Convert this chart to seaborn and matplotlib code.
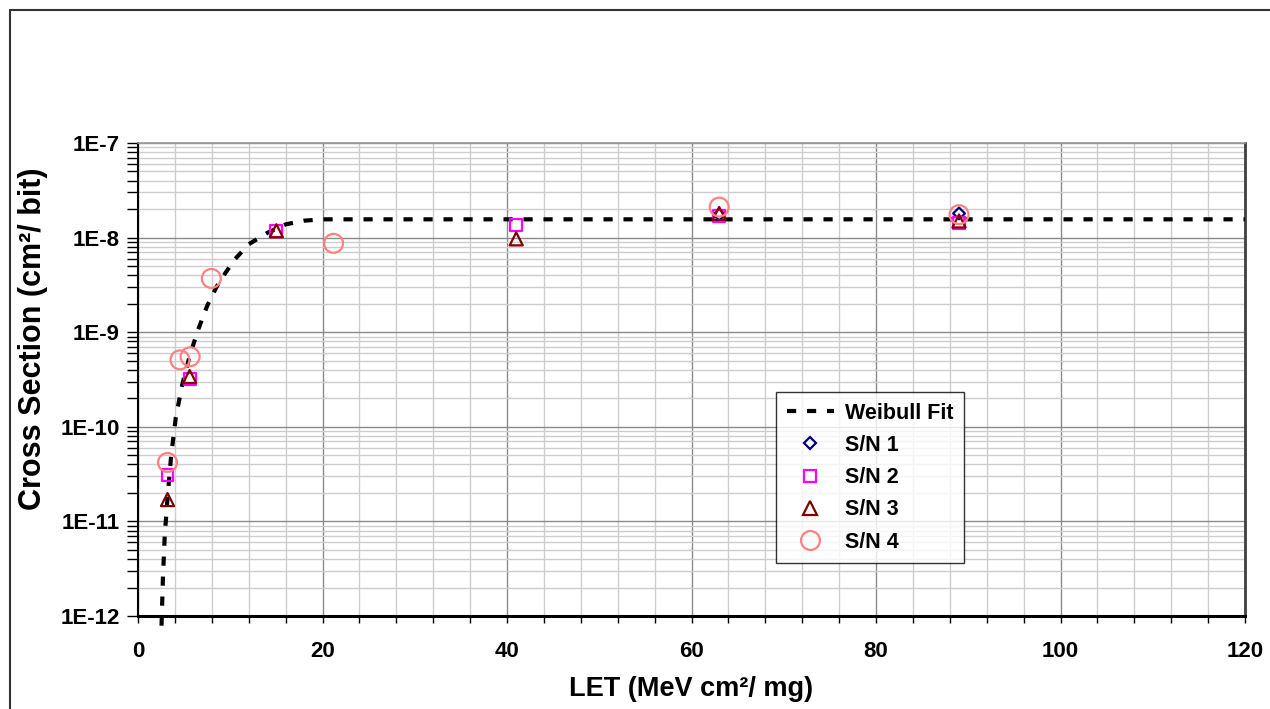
import numpy as np
import pandas as pd
import matplotlib
matplotlib.use("Agg")
import matplotlib.pyplot as plt
import matplotlib.patches as mpatches
from matplotlib.lines import Line2D
from matplotlib.ticker import MultipleLocator, LogLocator, FixedLocator, NullFormatter, FuncFormatter
import seaborn as sns

# ---------- DATA ----------
fit_let = [2.55, 2.7, 2.9, 3.2, 3.6, 4.1, 4.8, 5.6, 6.5, 7.5, 8.5, 9.5, 10.5,
           12.0, 14.0, 16.0, 18.0, 20.0, 120.0]
fit_xs = [7.9e-13, 2.5e-12, 7.1e-12, 1.78e-11, 5.0e-11, 1.26e-10, 2.8e-10, 5.6e-10,
          1.05e-9, 1.9e-9, 3.0e-9, 4.27e-9, 5.9e-9, 8.5e-9, 1.12e-8, 1.38e-8,
          1.51e-8, 1.56e-8, 1.56e-8]

sn1_let = [63.0, 89.0]
sn1_xs = [1.75e-8, 1.8e-8]
sn2_let = [3.2, 5.6, 15.0, 41.0, 63.0, 89.0]
sn2_xs = [3.1e-11, 3.2e-10, 1.18e-8, 1.35e-8, 1.68e-8, 1.42e-8]
sn3_let = [3.2, 5.6, 15.0, 41.0, 63.0, 89.0]
sn3_xs = [1.7e-11, 3.4e-10, 1.18e-8, 9.7e-9, 1.8e-8, 1.5e-8]
sn4_let = [3.2, 4.55, 5.65, 7.95, 21.2, 63.0, 89.0]
sn4_xs = [4.2e-11, 5.1e-10, 5.5e-10, 3.7e-9, 8.7e-9, 2.1e-8, 1.75e-8]

series = [
    ("S/N 1", sn1_let, sn1_xs, "D", "#000080", 36),
    ("S/N 2", sn2_let, sn2_xs, "s", "#FF00FF", 74),
    ("S/N 3", sn3_let, sn3_xs, "^", "#800000", 88),
    ("S/N 4", sn4_let, sn4_xs, "o", "#FF8080", 185),
]

# ---------- STYLE ----------
sns.set_style("white")
plt.rcParams["font.family"] = ["Liberation Sans", "DejaVu Sans"]
plt.rcParams["font.weight"] = "bold"
plt.rcParams["text.color"] = "black"
plt.rcParams["xtick.color"] = "black"
plt.rcParams["ytick.color"] = "black"

W, H = 1270, 709
fig = plt.figure(figsize=(W / 100, H / 100), dpi=100)
ax = fig.add_axes([138 / W, 1 - 616 / H, (1245 - 138) / W, (616 - 143) / H])

# outer chart frame (cut off at right/bottom like the source)
fig.patches.append(mpatches.Rectangle((10 / W, -0.1), 1.2, (1 - 10 / H) + 0.1,
                                      transform=fig.transFigure, fill=False,
                                      edgecolor="#333333", linewidth=1.5))

fit_df = pd.DataFrame({"LET": fit_let, "XS": fit_xs})
sns.lineplot(data=fit_df, x="LET", y="XS", sort=False, estimator=None, ax=ax,
             color="black", linewidth=3.0, linestyle=(0, (2.2, 2.6)),
             clip_on=False, zorder=3)

for name, xv, yv, mk, col, sz in series:
    df = pd.DataFrame({"LET": xv, "XS": yv})
    sns.scatterplot(data=df, x="LET", y="XS", ax=ax, marker=mk, s=sz,
                    facecolors="none", edgecolor=col, linewidth=1.6, zorder=4)

ax.set_yscale("log")
ax.set_xlim(0, 120)
ax.set_ylim(1e-12, 1e-7)

ax.xaxis.set_major_locator(MultipleLocator(20))
ax.xaxis.set_minor_locator(MultipleLocator(4))
ax.yaxis.set_major_locator(FixedLocator([1e-12, 1e-11, 1e-10, 1e-9, 1e-8, 1e-7]))
ax.yaxis.set_minor_locator(LogLocator(base=10, subs=np.arange(2, 10), numticks=20))
ax.yaxis.set_major_formatter(FuncFormatter(lambda v, p: f"1E{int(round(np.log10(v)))}"))
ax.yaxis.set_minor_formatter(NullFormatter())

ax.grid(which="major", color="#8a8a8a", linewidth=1.0)
ax.grid(which="minor", color="#cdcdcd", linewidth=1.0)
ax.set_axisbelow(True)

ax.tick_params(axis="y", which="both", direction="out", length=8, width=1,
               color="black", labelcolor="black", left=True, labelsize=16, pad=5)
ax.tick_params(axis="x", which="both", direction="out", length=5, width=1,
               color="black", labelcolor="black", bottom=True, labelsize=16, pad=13)
for lab in ax.get_xticklabels() + ax.get_yticklabels():
    lab.set_fontweight("bold")

for side in ["left", "bottom", "top", "right"]:
    ax.spines[side].set_visible(True)
ax.spines["left"].set_color("black")
ax.spines["left"].set_linewidth(1.5)
ax.spines["bottom"].set_color("black")
ax.spines["bottom"].set_linewidth(2.2)
ax.spines["top"].set_color("#9a9a9a")
ax.spines["top"].set_linewidth(1.2)
ax.spines["right"].set_color("#404040")
ax.spines["right"].set_linewidth(2.0)

ax.set_xlabel("")
ax.set_ylabel("")
fig.text(691 / W, 1 - 689 / H, "LET (MeV cm²/ mg)", ha="center", va="center",
         fontsize=19.5, fontweight="bold", color="black")
fig.text(33 / W, 1 - 339 / H, "Cross Section (cm²/ bit)", ha="center", va="center",
         rotation=90, fontsize=22, fontweight="bold", color="black")

# legend
handles = [Line2D([], [], color="black", linewidth=3.0, linestyle=(0, (2.2, 2.6)))]
for name, xv, yv, mk, col, sz in series:
    handles.append(Line2D([], [], linestyle="none", marker=mk, markersize=np.sqrt(sz),
                          markerfacecolor="none", markeredgecolor=col,
                          markeredgewidth=1.6))
labels = ["Weibull Fit"] + [s[0] for s in series]
leg = fig.legend(handles, labels, loc="upper left",
                 bbox_to_anchor=(776 / W, 1 - 392 / H), frameon=True,
                 fancybox=False, prop={"size": 15.5, "weight": "bold"},
                 handlelength=2.2, labelspacing=0.52, borderpad=0.5,
                 handletextpad=0.5, borderaxespad=0)
leg.get_frame().set_edgecolor("black")
leg.get_frame().set_linewidth(1.0)
for t in leg.get_texts():
    t.set_color("black")

fig.savefig("out.png", dpi=100)
